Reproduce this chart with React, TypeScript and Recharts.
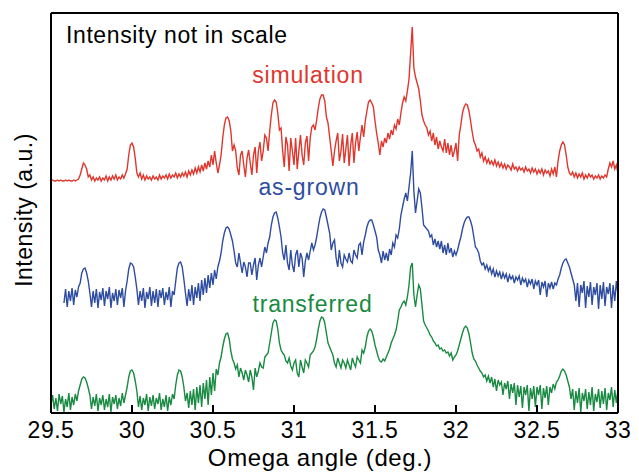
import { LineChart, Line, XAxis, YAxis } from "recharts";

// omega scan: 29.50 .. 33.00 deg, 0.01 deg per point
const START = 29.5;
const STEP = 0.01;

// intensities (a.u., curves offset, not in scale), one row = 0.1 deg
const simulation = [
  232, 233, 232, 232, 233, 232, 233, 232, 232, 233, // 29.5
  232, 233, 232, 232, 233, 232, 233, 234, 238, 244, // 29.6
  250, 248, 244, 236, 238, 233, 236, 232, 235, 233, // 29.7
  236, 232, 235, 233, 237, 232, 236, 233, 237, 234, // 29.8
  238, 233, 236, 234, 238, 235, 239, 244, 258, 268, // 29.9
  270, 266, 255, 240, 236, 240, 234, 238, 233, 237, // 30.0
  234, 236, 233, 237, 234, 236, 233, 238, 234, 237, // 30.1
  235, 238, 234, 239, 235, 238, 236, 240, 235, 239, // 30.2
  236, 240, 237, 241, 236, 242, 238, 243, 239, 245, // 30.3
  240, 246, 241, 248, 242, 250, 244, 252, 246, 258, // 30.4
  248, 262, 250, 240, 248, 258, 275, 288, 295, 296, // 30.5
  292, 282, 262, 268, 262, 245, 238, 258, 262, 248, // 30.6
  236, 255, 263, 250, 238, 258, 266, 240, 262, 271, // 30.7
  252, 262, 278, 275, 262, 282, 298, 310, 313, 311, // 30.8
  300, 283, 285, 262, 246, 276, 268, 242, 275, 262, // 30.9
  248, 275, 244, 262, 278, 258, 248, 270, 277, 252, // 31.0
  275, 286, 288, 283, 293, 305, 314, 318, 318, 312, // 31.1
  296, 290, 276, 262, 247, 262, 272, 280, 252, 262, // 31.2
  279, 250, 264, 278, 247, 268, 280, 250, 270, 281, // 31.3
  262, 276, 288, 276, 292, 302, 311, 313, 310, 306, // 31.4
  292, 280, 270, 258, 272, 266, 275, 270, 280, 274, // 31.5
  283, 278, 288, 284, 294, 288, 300, 310, 316, 312, // 31.6
  322, 334, 360, 386, 345, 336, 330, 324, 312, 298, // 31.7
  292, 288, 285, 278, 282, 272, 280, 268, 276, 264, // 31.8
  272, 266, 262, 274, 260, 270, 258, 268, 256, 262, // 31.9
  270, 252, 278, 288, 300, 306, 309, 308, 302, 292, // 32.0
  281, 272, 268, 262, 264, 256, 260, 252, 256, 250, // 32.1
  254, 249, 252, 248, 253, 247, 251, 246, 250, 245, // 32.2
  249, 244, 248, 246, 243, 249, 244, 246, 242, 246, // 32.3
  243, 245, 241, 246, 242, 244, 240, 245, 241, 244, // 32.4
  239, 243, 240, 244, 238, 243, 240, 242, 237, 244, // 32.5
  239, 246, 236, 252, 262, 268, 271, 268, 258, 246, // 32.6
  240, 238, 241, 236, 240, 235, 239, 236, 240, 234, // 32.7
  238, 235, 239, 236, 238, 234, 237, 235, 238, 234, // 32.8
  237, 235, 238, 236, 244, 250, 246, 252, 244, 248, // 32.9
  240, // 33.0
];

const asGrown = [
  null, null, null, null, null, null, null, null, 110, 124, // 29.5
  106, 122, 112, 125, 108, 123, 116, 126, 130, 140, // 29.6
  144, 145, 140, 132, 120, 106, 122, 110, 124, 105, // 29.7
  121, 113, 125, 107, 122, 114, 126, 105, 120, 112, // 29.8
  124, 108, 123, 115, 125, 106, 122, 132, 144, 150, // 29.9
  149, 146, 136, 124, 108, 122, 112, 125, 105, 121, // 30.0
  114, 126, 107, 122, 110, 124, 106, 123, 115, 125, // 30.1
  108, 121, 113, 126, 106, 122, 118, 132, 145, 150, // 30.2
  151, 146, 134, 120, 107, 124, 112, 128, 108, 126, // 30.3
  115, 130, 112, 133, 118, 135, 120, 138, 125, 140, // 30.4
  128, 143, 134, 146, 152, 160, 172, 180, 185, 186, // 30.5
  184, 178, 172, 162, 150, 146, 160, 150, 140, 151, // 30.6
  146, 136, 150, 150, 138, 148, 155, 133, 148, 155, // 30.7
  146, 156, 166, 160, 170, 176, 188, 196, 200, 201, // 30.8
  195, 186, 176, 160, 153, 168, 150, 143, 163, 148, // 30.9
  141, 158, 163, 146, 160, 155, 136, 152, 160, 153, // 31.0
  162, 170, 163, 168, 176, 186, 195, 201, 204, 203, // 31.1
  196, 188, 180, 163, 170, 173, 155, 146, 163, 150, // 31.2
  146, 158, 154, 151, 160, 152, 150, 163, 158, 155, // 31.3
  168, 170, 158, 171, 178, 186, 191, 193, 193, 188, // 31.4
  182, 176, 163, 158, 150, 162, 153, 160, 152, 164, // 31.5
  158, 170, 166, 178, 175, 184, 198, 206, 214, 220, // 31.6
  212, 226, 240, 262, 222, 200, 212, 224, 220, 205, // 31.7
  188, 186, 184, 182, 176, 178, 168, 174, 166, 172, // 31.8
  164, 172, 160, 168, 158, 170, 160, 165, 156, 162, // 31.9
  158, 163, 170, 176, 184, 190, 194, 196, 196, 192, // 32.0
  186, 176, 166, 164, 160, 152, 148, 150, 144, 148, // 32.1
  142, 146, 139, 144, 136, 142, 137, 141, 134, 140, // 32.2
  135, 139, 131, 138, 134, 137, 130, 136, 133, 137, // 32.3
  128, 135, 131, 134, 126, 133, 129, 134, 124, 132, // 32.4
  128, 133, 118, 131, 126, 132, 116, 130, 125, 131, // 32.5
  124, 130, 128, 134, 138, 145, 150, 153, 154, 150, // 32.6
  146, 140, 134, 128, 112, 130, 106, 128, 120, 132, // 32.7
  105, 127, 116, 131, 108, 126, 118, 130, 104, 128, // 32.8
  114, 131, 107, 126, 119, 130, 105, 128, 112, 132, // 32.9
  118, // 33.0
];

const transferred = [
  8, 18, 4, 15, 2, 19, 9, 17, 1, 14, // 29.5
  6, 20, 3, 16, 8, 19, 12, 22, 28, 34, // 29.6
  36, 35, 31, 25, 18, 4, 16, 7, 19, 2, // 29.7
  15, 8, 18, 3, 14, 6, 19, 1, 16, 9, // 29.8
  18, 4, 15, 7, 20, 10, 18, 26, 36, 42, // 29.9
  43, 40, 32, 22, 6, 17, 3, 15, 8, 19, // 30.0
  2, 16, 7, 18, 4, 15, 9, 20, 3, 14, // 30.1
  6, 18, 2, 16, 8, 19, 14, 28, 38, 43, // 30.2
  42, 36, 26, 12, 20, 5, 22, 8, 24, 3, // 30.3
  26, 10, 28, 6, 30, 14, 33, 8, 36, 18, // 30.4
  40, 22, 44, 38, 50, 56, 66, 74, 79, 80, // 30.5
  74, 62, 54, 50, 44, 48, 36, 45, 40, 33, // 30.6
  43, 38, 31, 43, 36, 23, 45, 36, 42, 50, // 30.7
  46, 45, 56, 58, 60, 70, 80, 90, 93, 92, // 30.8
  84, 70, 63, 60, 58, 52, 50, 55, 47, 43, // 30.9
  50, 53, 40, 36, 53, 46, 40, 53, 50, 46, // 31.0
  58, 60, 62, 66, 74, 84, 92, 96, 95, 90, // 31.1
  80, 70, 66, 62, 58, 50, 46, 55, 50, 45, // 31.2
  53, 50, 45, 53, 48, 43, 55, 50, 46, 56, // 31.3
  53, 50, 63, 60, 66, 76, 82, 84, 82, 76, // 31.4
  68, 62, 56, 52, 51, 54, 52, 56, 60, 64, // 31.5
  70, 74, 78, 83, 92, 103, 106, 110, 112, 108, // 31.6
  116, 128, 146, 150, 118, 106, 118, 128, 124, 108, // 31.7
  92, 88, 85, 82, 78, 76, 72, 70, 67, 68, // 31.8
  64, 65, 62, 63, 60, 61, 57, 60, 53, 56, // 31.9
  58, 62, 68, 74, 80, 85, 87, 85, 79, 70, // 32.0
  60, 54, 52, 48, 45, 42, 40, 36, 38, 32, // 32.1
  37, 30, 36, 26, 34, 22, 33, 28, 31, 18, // 32.2
  30, 24, 32, 14, 29, 20, 30, 8, 28, 16, // 32.3
  27, 5, 26, 18, 28, 2, 25, 14, 27, 6, // 32.4
  26, 18, 28, 4, 25, 15, 27, 8, 26, 20, // 32.5
  29, 24, 31, 33, 37, 42, 44, 42, 38, 32, // 32.6
  26, 14, 24, 3, 22, 10, 25, 1, 20, 12, // 32.7
  24, 4, 21, 8, 26, 2, 19, 11, 24, 5, // 32.8
  22, 9, 25, 3, 20, 13, 26, 6, 23, 10, // 32.9
  24, // 33.0
];

const xTicks = [29.5, 30, 30.5, 31, 31.5, 32, 32.5, 33];
const yTicks = [6.3, 30.9, 55.5, 80.1, 104.7, 129.3, 153.9, 178.5, 203.1, 227.7, 252.3, 276.9, 301.5, 326.1, 350.7, 375.3];

const data = simulation.map((v, i) => ({
  omega: +(START + i * STEP).toFixed(2),
  simulation: v,
  asGrown: asGrown[i],
  transferred: transferred[i],
}));

const RED = "#e0362d";
const BLUE = "#2f4da0";
const GREEN = "#198a42";
const FONT = "'Liberation Sans', Arial, sans-serif";
const frame = { stroke: "#000", strokeWidth: 2 };

export default function App() {
  return (
    <div style={{ position: "absolute", left: 0, top: 0, width: 639, height: 474, background: "#fff" }}>
      {/* axes are 1px thick so the plot box sits at 51..618 x 13..413 */}
      <LineChart width={639} height={474} data={data} margin={{ top: 12, right: 20, bottom: 60, left: 50 }}>
        <XAxis
          dataKey="omega"
          type="number"
          domain={[29.5, 33]}
          ticks={xTicks}
          interval={0}
          allowDataOverflow
          height={1}
          axisLine={frame}
          tickLine={frame}
          tickSize={-8}
          tickMargin={17}
          tick={{ fill: "#000", fontSize: 23, fontFamily: FONT, letterSpacing: 0.5 }}
        />
        <XAxis
          xAxisId="top"
          orientation="top"
          type="number"
          domain={[29.5, 33]}
          ticks={xTicks}
          interval={0}
          height={1}
          axisLine={frame}
          tickLine={frame}
          tickSize={-8}
          tick={false}
        />
        <YAxis
          type="number"
          domain={[0, 400]}
          ticks={yTicks}
          interval={0}
          allowDataOverflow
          width={1}
          axisLine={frame}
          tickLine={frame}
          tickSize={-8}
          tick={false}
        />
        <YAxis
          yAxisId="right"
          orientation="right"
          type="number"
          domain={[0, 400]}
          ticks={yTicks}
          interval={0}
          width={1}
          axisLine={frame}
          tickLine={frame}
          tickSize={-8}
          tick={false}
        />
        <Line dataKey="simulation" stroke={RED} strokeWidth={1.4} dot={false} activeDot={false} isAnimationActive={false} />
        <Line dataKey="asGrown" stroke={BLUE} strokeWidth={1.4} dot={false} activeDot={false} isAnimationActive={false} />
        <Line dataKey="transferred" stroke={GREEN} strokeWidth={1.4} dot={false} activeDot={false} isAnimationActive={false} />
      </LineChart>
      <svg width={639} height={474} style={{ position: "absolute", left: 0, top: 0, pointerEvents: "none" }} fontFamily={FONT}>
        <text x={66} y={43} fontSize={23} letterSpacing={0.6} fill="#000">Intensity not in scale</text>
        <text x={308} y={82.5} fontSize={23} letterSpacing={0.8} textAnchor="middle" fill={RED}>simulation</text>
        <text x={309} y={195} fontSize={23} letterSpacing={0.8} textAnchor="middle" fill={BLUE}>as-grown</text>
        <text x={312.5} y={311.5} fontSize={23} letterSpacing={0.8} textAnchor="middle" fill={GREEN}>transferred</text>
        <text x={320} y={466} fontSize={24} letterSpacing={0.6} textAnchor="middle" fill="#000">Omega angle (deg.)</text>
        <text x={32} y={210} fontSize={23} letterSpacing={0.5} textAnchor="middle" fill="#000" transform="rotate(-90, 32, 210)">Intensity (a.u.)</text>
      </svg>
    </div>
  );
}
